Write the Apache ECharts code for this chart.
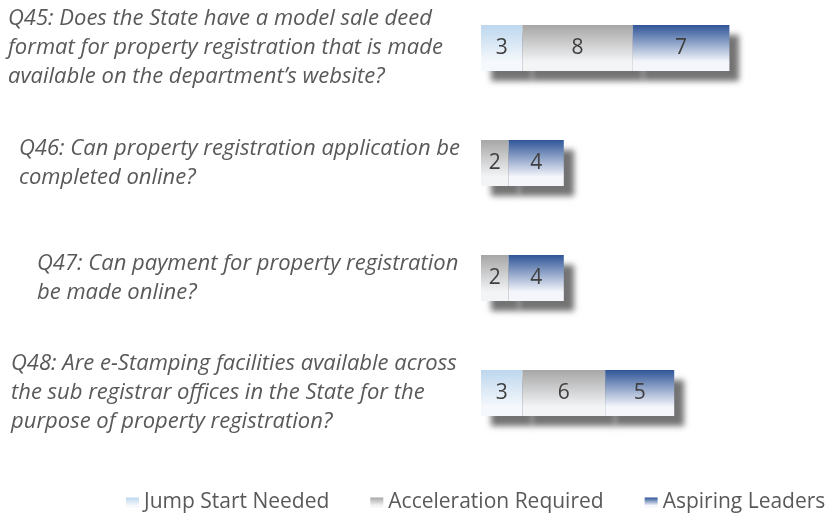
<!DOCTYPE html>
<html>
<head>
	<meta charset="utf-8">
	<script src="https://cdn.jsdelivr.net/npm/echarts@6/dist/echarts.min.js"></script>
	<title>Property registration</title>
	<style>
		html, body { margin: 0; padding: 0; background: #fff; }
	</style>
</head>
<body>
	<div id="main" style="width: 827px;height:515px;"></div>

	<script type="text/javascript">
	    // questions (top to bottom)
	    var questions = [
	        'Q45: Does the State have a model sale deed\nformat for property registration that is made\navailable on the department\u2019s website?',
	        'Q46: Can property registration application be\ncompleted online?',
	        'Q47: Can payment for property registration\nbe made online?',
	        'Q48: Are e-Stamping facilities available across\nthe sub registrar offices in the State for the\npurpose of property registration?'
	    ];
	    var seriesNames = ['Jump Start Needed', 'Acceleration Required', 'Aspiring Leaders'];
	    var jumpStart = [3, 0, 0, 3];
	    var acceleration = [8, 2, 2, 6];
	    var aspiring = [7, 4, 4, 5];

	    var myChart = echarts.init(document.getElementById('main'));

	    // left indent of each question block
	    var indent = [0, 11, 29, 3];
	    var rich = {};
	    indent.forEach(function (v, i) {
	        rich['q' + i] = {
	            padding: [0, 0, 0, v],
	            fontFamily: 'Open Sans',
	            fontStyle: 'italic',
	            fontSize: 22,
	            lineHeight: 29,
	            color: '#595959'
	        };
	    });

	    function grad(top, bottom) {
	        return new echarts.graphic.LinearGradient(0, 0, 0, 1, [
	            { offset: 0, color: top },
	            { offset: 0.8, color: bottom },
	            { offset: 1, color: bottom }
	        ]);
	    }
	    var colors = [
	        grad('#bdd7ee', '#f5f8fc'),
	        grad('#a6a6a6', '#f3f4f6'),
	        grad('#2f5597', '#f4f6fb')
	    ];

	    function barSeries(i, data) {
	        return {
	            name: seriesNames[i],
	            type: 'bar',
	            stack: 'all',
	            barWidth: 46,
	            clip: false,
	            data: data,
	            itemStyle: {
	                color: colors[i],
	                shadowColor: 'rgba(0,0,0,0.55)',
	                shadowBlur: 6,
	                shadowOffsetX: 10,
	                shadowOffsetY: 10
	            },
	            label: {
	                show: true,
	                position: 'inside',
	                rotate: 0,
	                fontFamily: 'Open Sans',
	                fontSize: 21,
	                color: '#404040',
	                formatter: function (p) { return p.value ? p.value : ''; }
	            }
	        };
	    }

	    var option = {
	        animation: false,
	        grid: { left: 481, width: 276, top: 48, bottom: 122 },
	        legend: {
	            data: seriesNames,
	            left: 126,
	            top: 492,
	            padding: 0,
	            itemWidth: 13,
	            itemHeight: 10,
	            itemGap: 41,
	            icon: 'rect',
	            itemStyle: { shadowBlur: 0, shadowOffsetX: 0, shadowOffsetY: 0, shadowColor: 'transparent' },
	            textStyle: { fontFamily: 'Open Sans', fontSize: 21, color: '#595959' }
	        },
	        xAxis: {
	            type: 'value',
	            min: 0,
	            max: 20,
	            show: false
	        },
	        yAxis: {
	            type: 'category',
	            inverse: true,
	            boundaryGap: false,
	            data: questions,
	            axisLine: { show: false },
	            axisTick: { show: false },
	            splitLine: { show: false },
	            axisLabel: {
	                align: 'left',
	                margin: 473,
	                rich: rich,
	                formatter: function (v, i) { return '{q' + i + '|' + v + '}'; }
	            }
	        },
	        series: [
	            barSeries(0, jumpStart),
	            barSeries(1, acceleration),
	            barSeries(2, aspiring)
	        ]
	    };

	    myChart.setOption(option);
    </script>
</body>
</html>
